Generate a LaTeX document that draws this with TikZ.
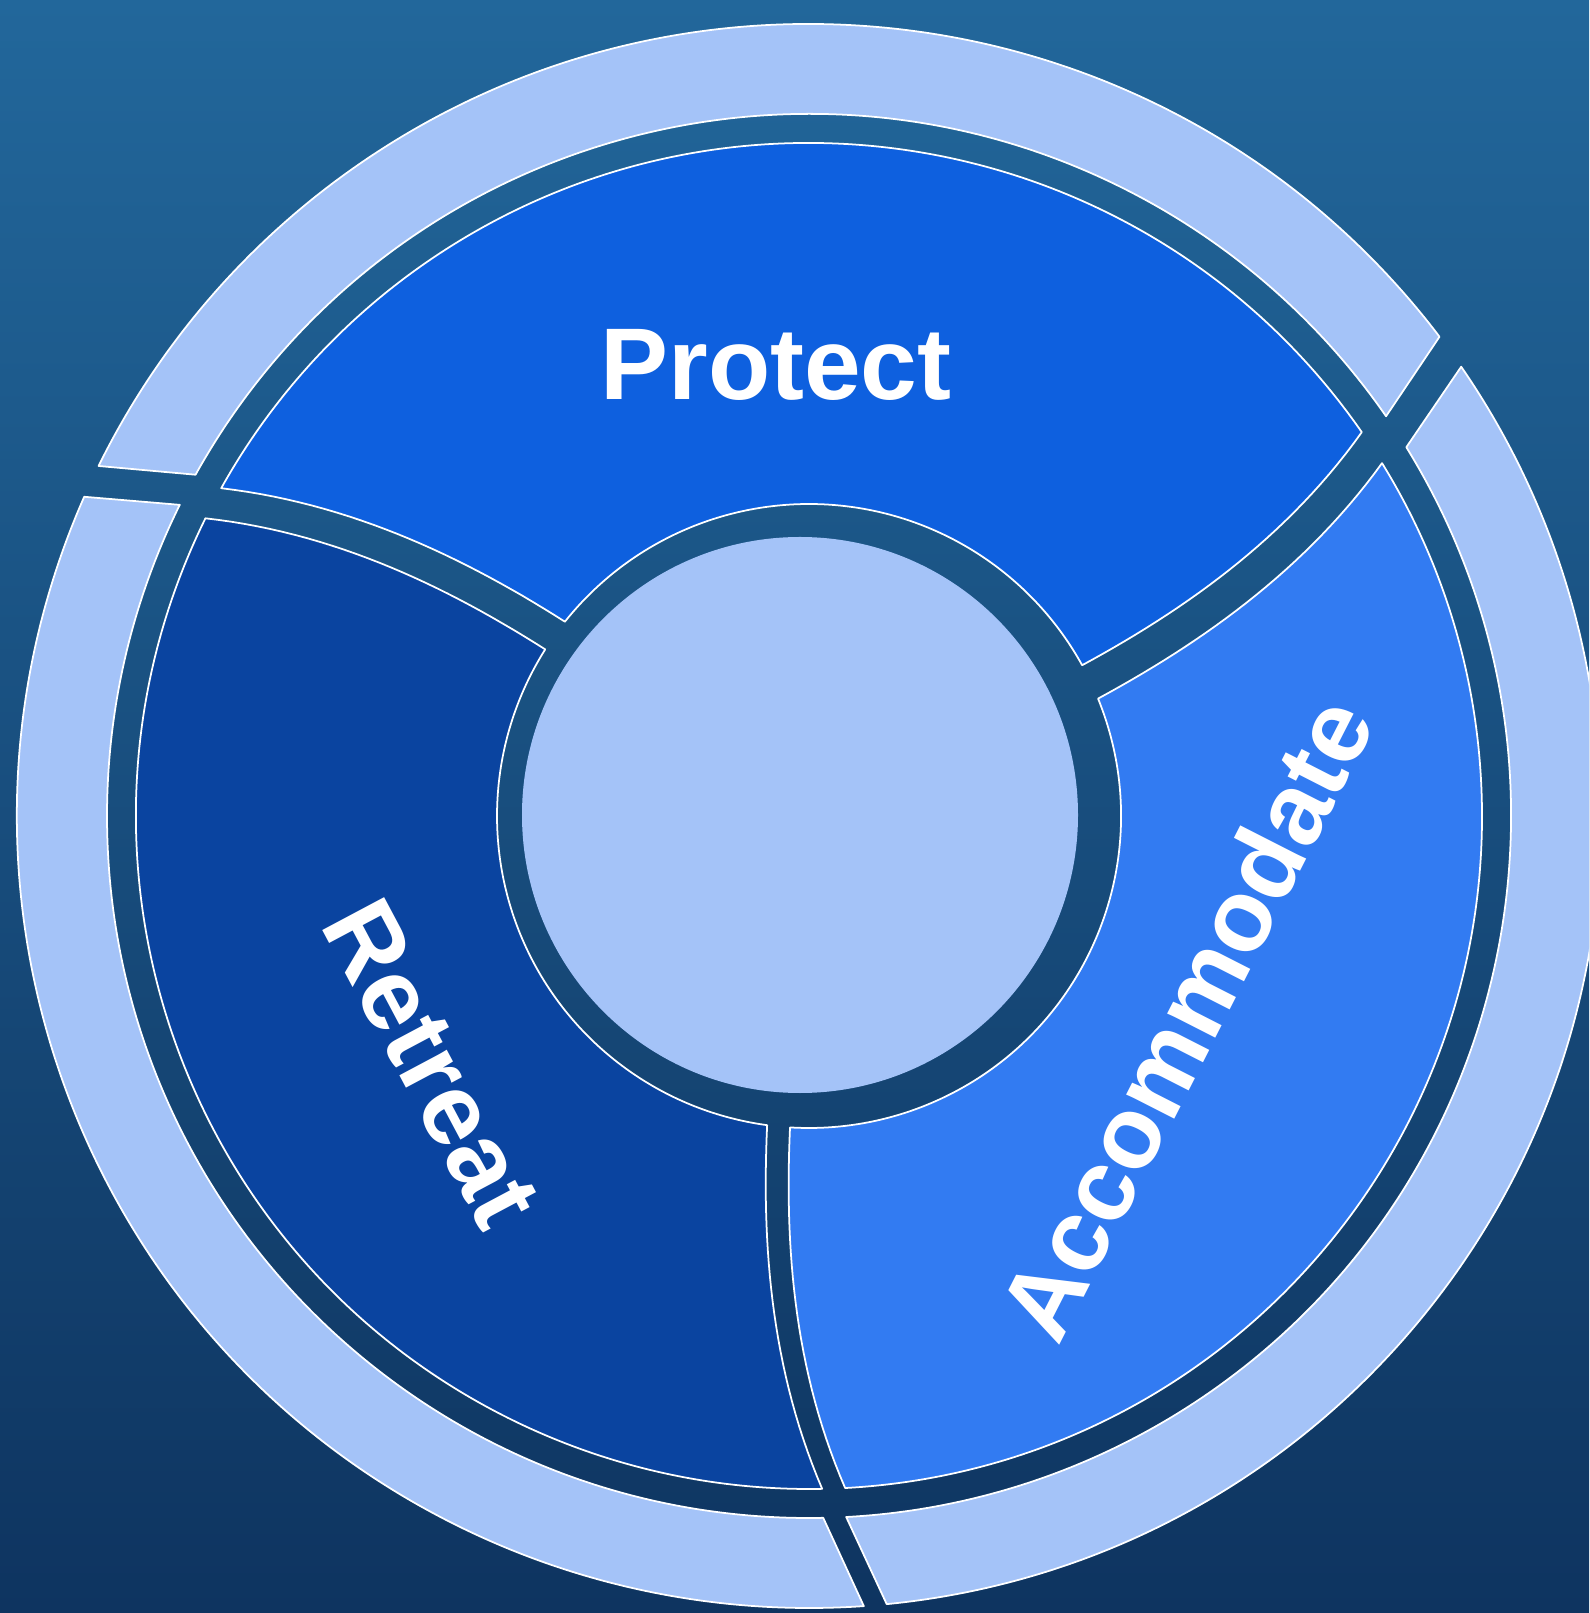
\documentclass[tikz,border=0pt]{standalone}
\usepackage{fontspec}
\setmainfont{Liberation Sans}
\definecolor{bgtop}{HTML}{22679B}
\definecolor{bgbot}{HTML}{0E3460}
\definecolor{ringblue}{HTML}{A4C3F8}
\definecolor{protect}{HTML}{0E60DF}
\definecolor{retreat}{HTML}{0A44A0}
\definecolor{accom}{HTML}{327BF2}
\begin{document}
\begin{tikzpicture}[x=0.1mm,y=0.1mm,
    seg/.style={draw=white,line width=0.5pt,line join=round},
    lbl/.style={text=white,inner sep=0pt,font=\fontsize{29}{34}\selectfont\bfseries},
    declare function={gg(\x)=7.7*(0.45*((\x-312)/361)+0.55*((\x-312)/361)*((\x-312)/361));}]

  \clip (-809,-797) rectangle (780,816);
  \shade[top color=bgtop,bottom color=bgbot] (-809,-797) rectangle (780,816);

  \fill[ringblue] (-9,1) circle[radius=278];

  \foreach \a/\ha/\b/\hb/\col in {25.5/18.5/144.6/17/protect,
                                  144.6/17/264.4/11.5/retreat,
                                  264.4/11.5/385.5/18.5/accom}{
    \pgfmathsetmacro\oa{\a+gg(673)+\ha/673*57.3}
    \pgfmathsetmacro\ob{\b+gg(673)-\hb/673*57.3}
    \pgfmathsetmacro\ia{\a+\ha/312*57.3}
    \pgfmathsetmacro\ib{\b-\hb/312*57.3}
    \filldraw[seg,fill=\col]
      plot[domain=312:673,samples=30,variable=\rad] ({\a+gg(\rad)+\ha/\rad*57.3}:\rad)
      arc[start angle=\oa,end angle=\ob,radius=673]
      -- plot[domain=673:312,samples=30,variable=\rad] ({\b+gg(\rad)-\hb/\rad*57.3}:\rad)
      arc[start angle=\ib,end angle=\ia,radius=312] -- cycle;
    % outer ring piece
    \pgfmathsetmacro\pa{\a+7.7+\ha/702*57.3}
    \pgfmathsetmacro\qa{\a+10.4+\ha/792*57.3}
    \pgfmathsetmacro\pb{\b+7.7-\hb/702*57.3}
    \pgfmathsetmacro\qb{\b+10.4-\hb/792*57.3}
    \filldraw[seg,fill=ringblue] (\pa:702) -- (\qa:792)
      arc[start angle=\qa,end angle=\qb,radius=792] -- (\pb:702)
      arc[start angle=\pb,end angle=\pa,radius=702] -- cycle;
  }

  \node[lbl] (protect) at (-33,451) {Protect};
  \node[lbl,rotate=-62] (retreat) at (-377,-247) {Retreat};
  \node[lbl,rotate=63] (accom) at (376,-202) {Accommodate};

\end{tikzpicture}
\end{document}
